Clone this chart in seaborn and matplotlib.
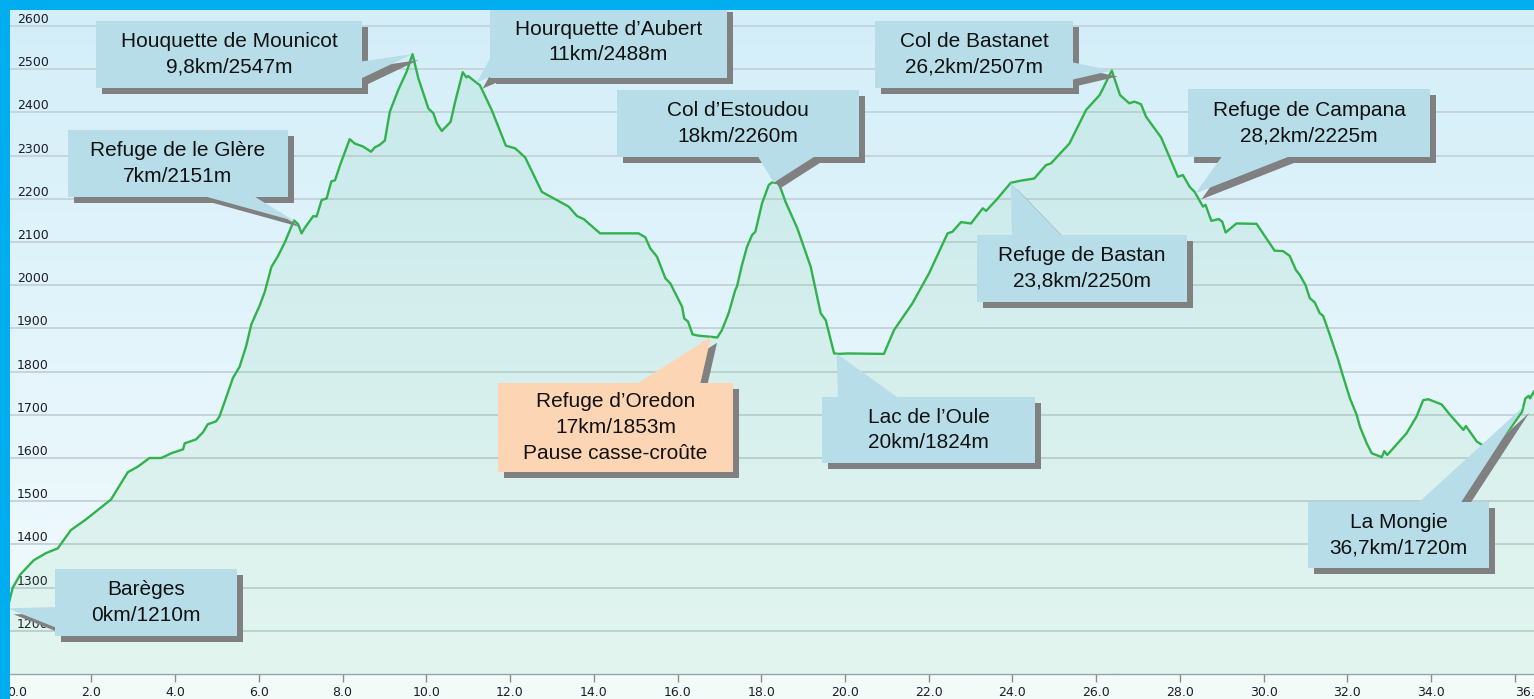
import numpy as np
import pandas as pd
import matplotlib
matplotlib.use('Agg')
import matplotlib.pyplot as plt
import seaborn as sns
from matplotlib.patches import Polygon, Rectangle
from matplotlib.transforms import IdentityTransform
from matplotlib.colors import LinearSegmentedColormap

# elevation profile (km, m)
distance_km = [0.0, 0.12, 0.30, 0.62, 0.92, 1.20, 1.51, 1.86, 2.47, 2.87, 3.11, 3.39, 3.67, 3.91,
               4.19, 4.23, 4.50, 4.67, 4.78, 4.98, 5.06, 5.22, 5.38, 5.54, 5.70, 5.82, 6.02, 6.14,
               6.30, 6.46, 6.62, 6.84, 6.94, 7.02, 7.10, 7.22, 7.30, 7.38, 7.50, 7.62, 7.73, 7.82,
               7.94, 8.17, 8.29, 8.49, 8.68, 8.77, 8.89, 9.01, 9.13, 9.33, 9.53, 9.67, 9.81, 10.05,
               10.17, 10.25, 10.37, 10.58, 10.69, 10.87, 10.96, 11.00, 11.17, 11.28, 11.56, 11.90,
               12.12, 12.36, 12.76, 13.08, 13.40, 13.60, 13.76, 14.15, 15.07, 15.23, 15.35, 15.51,
               15.71, 15.83, 15.99, 16.11, 16.16, 16.25, 16.36, 16.51, 16.75, 16.95, 17.06, 17.22,
               17.38, 17.42, 17.54, 17.66, 17.78, 17.86, 18.02, 18.18, 18.26, 18.42, 18.58, 18.86,
               19.18, 19.42, 19.54, 19.74, 19.86, 20.06, 20.93, 21.17, 21.61, 22.01, 22.45, 22.57,
               22.77, 23.01, 23.29, 23.37, 23.61, 23.96, 24.20, 24.52, 24.80, 24.92, 25.36, 25.76,
               26.08, 26.17, 26.37, 26.57, 26.79, 26.91, 27.07, 27.19, 27.55, 27.95, 28.07, 28.23,
               28.35, 28.55, 28.61, 28.75, 28.93, 29.01, 29.09, 29.35, 29.83, 30.26, 30.46, 30.62,
               30.77, 30.86, 31.00, 31.10, 31.22, 31.34, 31.42, 31.58, 31.78, 31.88, 32.06, 32.22,
               32.30, 32.46, 32.58, 32.82, 32.88, 32.95, 33.41, 33.65, 33.81, 33.93, 34.25, 34.45,
               34.77, 34.83, 35.09, 35.30, 35.60, 35.90, 36.17, 36.25, 36.33, 36.36, 36.46]
altitude_m = [1252, 1299, 1330, 1363, 1380, 1391, 1433, 1457, 1504, 1567, 1580, 1600, 1600, 1611,
              1620, 1634, 1643, 1660, 1678, 1685, 1696, 1740, 1785, 1811, 1860, 1909, 1953, 1984,
              2042, 2068, 2099, 2150, 2141, 2120, 2133, 2149, 2160, 2159, 2197, 2201, 2240, 2243,
              2278, 2338, 2328, 2321, 2309, 2319, 2325, 2335, 2402, 2452, 2494, 2535, 2479, 2409,
              2398, 2375, 2357, 2378, 2425, 2493, 2481, 2484, 2471, 2463, 2406, 2323,
              2317, 2296, 2216, 2199, 2182, 2160, 2153, 2120, 2120, 2111, 2085, 2066,
              2016, 2004, 1973, 1950, 1923, 1916, 1886, 1883, 1881, 1879, 1896, 1935,
              1989, 1997, 2047, 2089, 2116, 2124, 2190, 2232, 2238, 2236, 2193, 2132,
              2043, 1935, 1919, 1842, 1841, 1842, 1841, 1896, 1958, 2028, 2120, 2124,
              2146, 2143, 2178, 2172, 2197, 2237, 2242, 2247, 2278, 2282, 2328, 2406,
              2440, 2457, 2497, 2440, 2421, 2425, 2419, 2390, 2342, 2251, 2255, 2228,
              2216, 2182, 2186, 2149, 2153, 2147, 2122, 2143, 2142, 2080, 2079, 2068,
              2035, 2024, 2000, 1970, 1960, 1935, 1929, 1885, 1827, 1794, 1738, 1700,
              1672, 1634, 1611, 1602, 1616, 1607, 1657, 1696, 1734, 1736, 1724, 1700,
              1665, 1674, 1638, 1625, 1640, 1670, 1707, 1738, 1744, 1738, 1755]

# stops along the route
stop_names = ['Barèges', 'Refuge de le Glère', 'Houquette de Mounicot', 'Hourquette d’Aubert',
              'Refuge d’Oredon', 'Col d’Estoudou', 'Lac de l’Oule', 'Refuge de Bastan',
              'Col de Bastanet', 'Refuge de Campana', 'La Mongie']
stop_info = ['0km/1210m', '7km/2151m', '9,8km/2547m', '11km/2488m',
             '17km/1853m\nPause casse-croûte', '18km/2260m', '20km/1824m', '23,8km/2250m',
             '26,2km/2507m', '28,2km/2225m', '36,7km/1720m']
stop_km = [0.0, 6.86, 9.67, 11.2, 16.8, 18.3, 19.8, 23.96, 26.37, 28.37, 36.2]

y_ticks = list(range(1200, 2700, 100))
x_ticks = list(range(0, 38, 2))

# callout layout in image pixels (left, top, right, bottom) + wedge base points
callout_layout = [
    dict(box=(55, 569, 237, 636), base=[(57, 607), (57, 628)]),
    dict(box=(68, 130, 288, 197), base=[(200, 195), (252, 195)]),
    dict(box=(96, 21, 362, 88), base=[(358, 62), (358, 80)]),
    dict(box=(490, 6, 727, 78), base=[(492, 55), (492, 76)]),
    dict(box=(498, 383, 733, 472), base=[(635, 385), (700, 385)], color='#fcd5b5'),
    dict(box=(617, 90, 859, 157), base=[(757, 155), (817, 155)]),
    dict(box=(822, 397, 1035, 463), base=[(838, 399), (900, 399)]),
    dict(box=(977, 235, 1187, 302), base=[(1012, 237), (1063, 237)]),
    dict(box=(875, 21, 1073, 88), base=[(1071, 62), (1071, 80)]),
    dict(box=(1188, 89, 1430, 157), base=[(1223, 155), (1293, 155)]),
    dict(box=(1308, 502, 1489, 568), base=[(1417, 504), (1460, 504)]),
]

W, H = 1534, 699
PX_PER_KM = 41.87
PX_PER_M = 0.432

sns.set_style('white')
plt.rcParams['font.family'] = ['DejaVu Sans']

fig = plt.figure(figsize=(W / 100, H / 100), dpi=100, facecolor='#f3fbf9')
ax = fig.add_axes([0, (H - 674) / H, 1, 674 / H])

x_lim = (-7.6 / PX_PER_KM, (W - 7.6) / PX_PER_KM)
y_lim = (1100, 2600 + 26 / PX_PER_M)

# background gradient
bg = LinearSegmentedColormap.from_list('bg', ['#d3eef9', '#f3fbfd'])
ax.imshow(np.linspace(0, 1, 256).reshape(-1, 1), cmap=bg, aspect='auto',
          extent=(x_lim[0], x_lim[1], y_lim[0], y_lim[1]), origin='upper', zorder=0)

profile = pd.DataFrame({'km': distance_km, 'alt': altitude_m})
ax.fill_between(profile['km'], profile['alt'], y_lim[0], color='#2fb04c', alpha=0.08,
                linewidth=0, zorder=2)
sns.lineplot(data=profile, x='km', y='alt', ax=ax, color='#31b24c', linewidth=1.7, zorder=3)

ax.set_xlim(*x_lim)
ax.set_ylim(*y_lim)
ax.set_xlabel('')
ax.set_ylabel('')

ax.set_axisbelow(True)
ax.grid(True, axis='y', color='#c6d5db', linewidth=1.4)
ax.grid(False, axis='x')

ax.set_yticks(y_ticks)
ax.set_yticklabels([str(v) for v in y_ticks])
ax.tick_params(axis='y', length=0, pad=-12, labelsize=9, labelcolor='#1c1c2c')
for lab in ax.get_yticklabels():
    lab.set_horizontalalignment('left')
    lab.set_verticalalignment('bottom')

ax.set_xticks(x_ticks)
ax.set_xticklabels(['%.1f' % v for v in x_ticks])
ax.tick_params(axis='x', direction='out', length=5.5, width=1, color='#8c8c8c', pad=3,
               labelsize=9, labelcolor='#1c1c2c', bottom=True)
xlabs = ax.get_xticklabels()
xlabs[0].set_horizontalalignment('left')
xlabs[-1].set_horizontalalignment('left')

for side in ['top', 'right', 'left']:
    ax.spines[side].set_visible(False)
ax.spines['bottom'].set_color('#9aa4a8')
ax.spines['bottom'].set_linewidth(1)

# callouts
ident = IdentityTransform()
shadow = 6
for name, info, km, lay in zip(stop_names, stop_info, stop_km, callout_layout):
    tip = ax.transData.transform((km, np.interp(km, distance_km, altitude_m)))
    l, t, r, b = lay['box']
    box = np.array([(l, H - t), (r, H - t), (r, H - b), (l, H - b)], dtype=float)
    wedge = np.array([(x, H - y) for x, y in lay['base']] + [tuple(tip)], dtype=float)
    face = lay.get('color', '#b7dde8')
    for pts in (box, wedge):
        ax.add_patch(Polygon(pts + [shadow, -shadow], closed=True, transform=ident,
                             facecolor='#808080', edgecolor='none', zorder=5, clip_on=False))
    for pts in (box, wedge):
        ax.add_patch(Polygon(pts, closed=True, transform=ident, facecolor=face,
                             edgecolor='none', zorder=6, clip_on=False))
    ax.text((l + r) / 2, H - (t + b) / 2, name + '\n' + info, transform=ident,
            ha='center', va='center', ma='center', fontsize=15, color='#111111',
            family=['Liberation Sans', 'DejaVu Sans'], linespacing=1.45, zorder=7)

# blue frame on the left and top
fig.add_artist(Rectangle((0, 0), 10 / W, 1, transform=fig.transFigure,
                         facecolor='#00aeef', edgecolor='none', zorder=10))
fig.add_artist(Rectangle((0, 1 - 10 / H), 1, 10 / H, transform=fig.transFigure,
                         facecolor='#00aeef', edgecolor='none', zorder=10))

fig.savefig('out.png', dpi=100, facecolor=fig.get_facecolor())
